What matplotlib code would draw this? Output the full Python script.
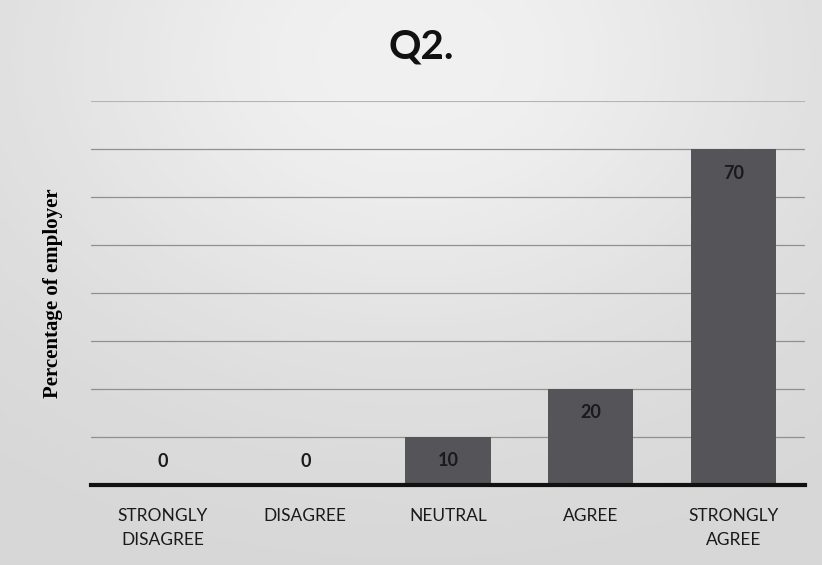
import matplotlib.pyplot as plt
import numpy as np

categories = ["STRONGLY\nDISAGREE", "DISAGREE", "NEUTRAL", "AGREE", "STRONGLY\nAGREE"]
values = [0, 0, 10, 20, 70]

fig = plt.figure(figsize=(8.22, 5.65), dpi=100)
fig.patch.set_facecolor("#cbcbcf")

# soft light patch behind the title, like the scanned page
bg = fig.add_axes([0, 0, 1, 1], zorder=-1)
yy, xx = np.mgrid[0:1:200j, 0:1:300j]
glow = np.exp(-(((xx - 0.5) / 0.5) ** 2 + ((yy - 0.1) / 0.55) ** 2))
bg.imshow(glow, cmap="Greys_r", vmin=-5.0, vmax=1.8, aspect="auto", extent=[0, 1, 1, 0])
bg.axis("off")

ax = fig.add_axes([0.111, 0.142, 0.868, 0.679])
ax.patch.set_alpha(0)
x = np.arange(len(categories))
ax.bar(x, values, width=0.6, color="#555458", zorder=3)
ax.set_xlim(-0.5, len(categories) - 0.5)
ax.set_ylim(0, 80)
ax.set_yticks(np.arange(10, 71, 10))
ax.yaxis.grid(True, color="#909094", linewidth=0.9)
ax.axhline(80, color="#b4b4b8", linewidth=0.8, zorder=1)
ax.set_axisbelow(True)
ax.tick_params(axis="y", left=False, labelleft=False)
ax.tick_params(axis="x", length=0, pad=17)
ax.set_xticks(x)
ax.set_xticklabels(categories, fontsize=12.5, family="Lato", color="#1a1a1a",
                   linespacing=1.6)
for s in ["top", "right", "left"]:
    ax.spines[s].set_visible(False)
ax.spines["bottom"].set_linewidth(3)
ax.spines["bottom"].set_color("#111111")
ax.spines["bottom"].set_zorder(4)

for xi, v in zip(x, values):
    off = -24 if v > 0 else 23
    ax.annotate(str(v), (xi, v), xytext=(0, off), textcoords="offset pixels",
                ha="center", va="center", fontsize=13, fontweight="bold",
                family="Lato", color="#1a1a1a", zorder=5)

ax.set_ylabel("Percentage of employer", family="Liberation Serif", fontweight="bold",
              fontsize=15, labelpad=20)
fig.text(0.512, 0.917, "Q2.", ha="center", va="center", fontsize=29,
         fontweight="bold", family="Lato", color="#111111")

fig.savefig("out.png", dpi=100, facecolor=fig.get_facecolor())
